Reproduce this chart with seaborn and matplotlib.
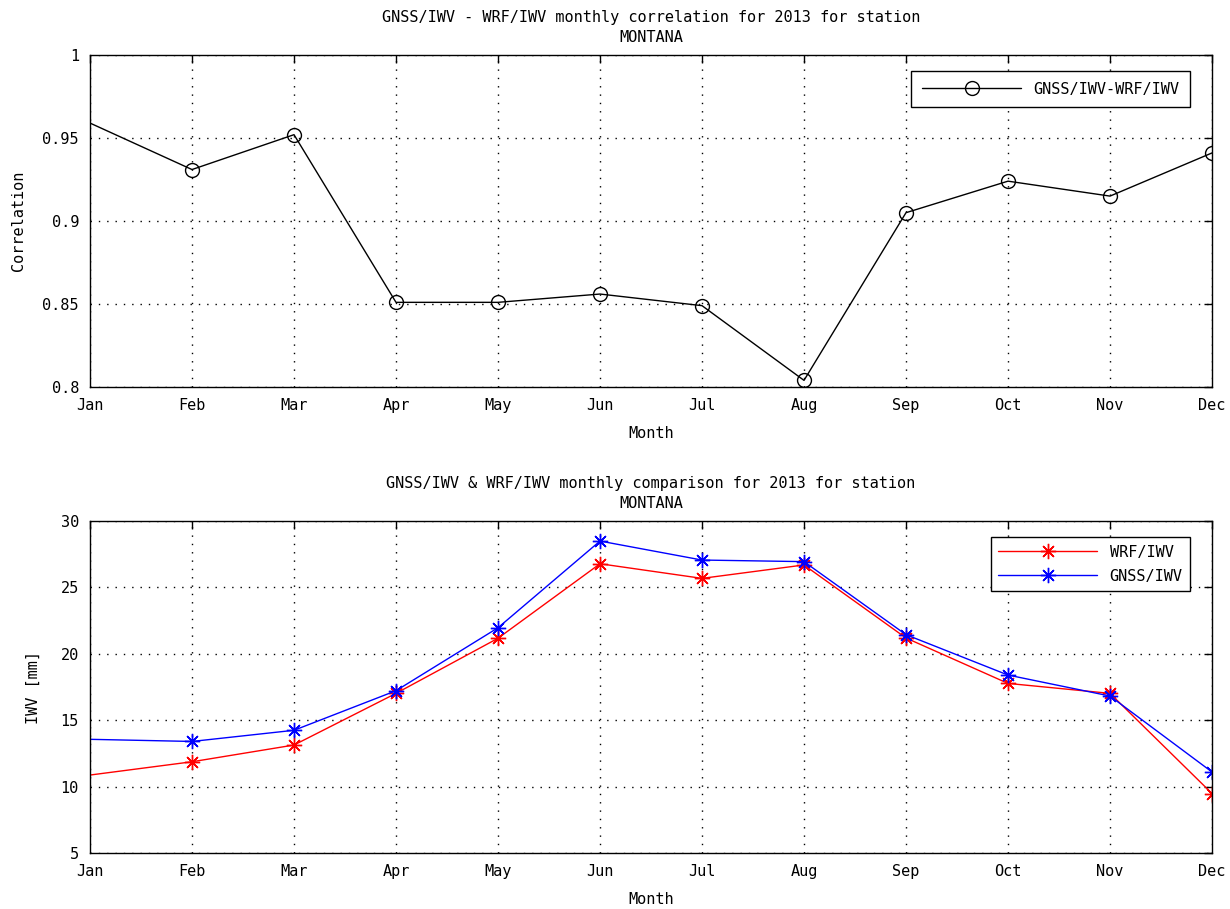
import matplotlib
matplotlib.use("Agg")
import matplotlib.pyplot as plt
import seaborn as sns
import pandas as pd

months = ["Jan", "Feb", "Mar", "Apr", "May", "Jun", "Jul", "Aug", "Sep", "Oct", "Nov", "Dec"]
month_num = list(range(1, 13))
correlation = [0.959, 0.931, 0.952, 0.851, 0.851, 0.856, 0.849, 0.804, 0.905, 0.924, 0.915, 0.941]
wrf_iwv = [10.87, 11.87, 13.13, 17.02, 21.17, 26.78, 25.68, 26.69, 21.19, 17.77, 17.02, 9.48]
gnss_iwv = [13.56, 13.40, 14.24, 17.22, 21.96, 28.49, 27.06, 26.94, 21.44, 18.40, 16.82, 11.10]

sns.set_style("white")
plt.rcParams['font.family'] = ['DejaVu Sans Mono', 'DejaVu Sans']
plt.rcParams['font.size'] = 11
plt.rcParams['text.color'] = 'black'
plt.rcParams['axes.labelcolor'] = 'black'

fig = plt.figure(figsize=(12.3, 9.09), dpi=100)
W, H = 1230, 909
ax1 = fig.add_axes([90 / W, 1 - 387 / H, 1122 / W, 332 / H])
ax2 = fig.add_axes([90 / W, 1 - 853 / H, 1122 / W, 332 / H])

df1 = pd.DataFrame({"Month": month_num, "Correlation": correlation})
sns.lineplot(data=df1, x="Month", y="Correlation", ax=ax1, color="black", lw=1,
             marker="o", markersize=10, markerfacecolor="none", markeredgecolor="black",
             markeredgewidth=1, label="GNSS/IWV-WRF/IWV")

df2 = pd.DataFrame({
    "Month": month_num * 2,
    "IWV": wrf_iwv + gnss_iwv,
    "Source": ["WRF/IWV"] * 12 + ["GNSS/IWV"] * 12,
})
sns.lineplot(data=df2, x="Month", y="IWV", hue="Source", ax=ax2,
             palette={"WRF/IWV": "#ff0000", "GNSS/IWV": "#0000ff"}, lw=1,
             marker=(8, 2, 0), markersize=11, markeredgewidth=1)
for line in ax2.get_lines():
    line.set_markeredgecolor(line.get_color())
for ax in (ax1, ax2):
    for line in ax.get_lines():
        if len(line.get_xdata()) == 12:
            line.set_markevery(list(range(1, 12)))

ax1.set_ylim(0.8, 1.0)
ax1.set_yticks([0.8, 0.85, 0.9, 0.95, 1.0])
ax1.set_yticklabels(["0.8", "0.85", "0.9", "0.95", "1"])
ax2.set_ylim(5, 30)
ax2.set_yticks([5, 10, 15, 20, 25, 30])

for ax in (ax1, ax2):
    ax.set_xlim(1, 12)
    ax.set_xticks(month_num)
    ax.set_xticklabels(months)
    ax.grid(True, color="black", linestyle=(0, (1, 5)), linewidth=1)
    ax.tick_params(direction="in", top=True, right=True, length=6, width=1, colors="black",
                   labelsize=11, pad=8)
    for s in ax.spines.values():
        s.set_color("black")
        s.set_linewidth(1)
    ax.set_xlabel("Month", fontsize=11, labelpad=9)

ax1.set_ylabel("Correlation", fontsize=11, labelpad=12)
ax2.set_ylabel("IWV [mm]", fontsize=11, labelpad=14)
ax1.set_title("GNSS/IWV - WRF/IWV monthly correlation for 2013 for station\nMONTANA",
              fontsize=11, linespacing=1.45, pad=9)
ax2.set_title("GNSS/IWV & WRF/IWV monthly comparison for 2013 for station\nMONTANA",
              fontsize=11, linespacing=1.45, pad=9)

leg1 = ax1.legend(loc="upper right", fancybox=False, framealpha=1, edgecolor="black",
                  fontsize=11, handlelength=6.5, borderpad=0.7, bbox_to_anchor=(0.9875, 0.975))
leg2 = ax2.legend(loc="upper right", fancybox=False, framealpha=1, edgecolor="black",
                  fontsize=11, handlelength=6.5, borderpad=0.5, labelspacing=0.6,
                  bbox_to_anchor=(0.9875, 0.975))
for leg in (leg1, leg2):
    leg.get_frame().set_linewidth(1)

fig.savefig("out.png", dpi=100)
